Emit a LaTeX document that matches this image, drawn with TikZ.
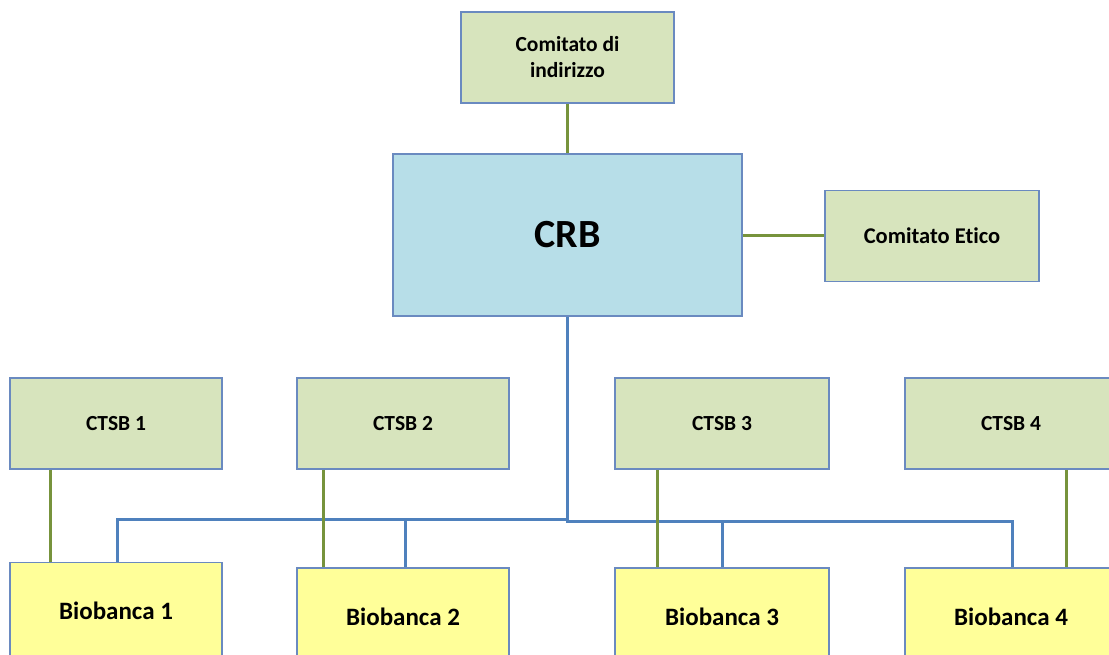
\documentclass[tikz,border=0pt]{standalone}
\usepackage{fontspec}
\setmainfont{Carlito}[Ligatures={NoCommon}]
\definecolor{gfill}{HTML}{D7E4BD}
\definecolor{yfill}{HTML}{FFFF99}
\definecolor{bfill}{HTML}{B7DEE8}
\definecolor{edge}{HTML}{6A8AC0}
\definecolor{gline}{HTML}{77933C}
\definecolor{bline}{HTML}{4F81BD}
\begin{document}
\begin{tikzpicture}[x=1pt,y=-1pt,
  box/.style={draw=edge, line width=1.6pt, align=center, inner sep=0pt,
              font=\fontsize{21.5}{26}\selectfont\bfseries},
  gbox/.style={box, fill=gfill, minimum width=213pt, minimum height=91pt},
  ybox/.style={box, fill=yfill, minimum width=213pt, minimum height=97pt,
               font=\fontsize{25}{30}\selectfont\bfseries},
  glink/.style={draw=gline, line width=3pt},
  blink/.style={draw=bline, line width=3pt}]
\useasboundingbox (0,0) rectangle (1109,655);
\clip (0,0) rectangle (1109,655);
% boxes
\node[gbox] (ci) at (567.5,57.5) {Comitato di\\indirizzo};
\node[box, fill=bfill, minimum width=349pt, minimum height=162pt,
      font=\fontsize{40}{44}\selectfont\bfseries] (crb) at (567.5,235) {CRB};
\node[gbox, minimum width=214pt, font=\fontsize{22.5}{26}\selectfont\bfseries] (ce) at (932,236) {Comitato Etico};
\node[gbox, minimum width=212pt] (t1) at (116,423.5) {CTSB 1};
\node[gbox, minimum width=212pt] (t2) at (403,423.5) {CTSB 2};
\node[gbox, minimum width=214pt] (t3) at (722,423.5) {CTSB 3};
\node[gbox, minimum width=212pt] (t4) at (1011,423.5) {CTSB 4};
\node[ybox, minimum width=212pt] (b1) at (116,611) {Biobanca 1};
\node[ybox, minimum width=212pt] (b2) at (403,616.5) {Biobanca 2};
\node[ybox, minimum width=214pt] (b3) at (722,616.5) {Biobanca 3};
\node[ybox, minimum width=212pt] (b4) at (1011,616.5) {Biobanca 4};
% bus coordinates
\coordinate (bj) at (567.5,519.5);
\coordinate (bL) at (117,519.5);
\coordinate (b2x) at (405,519.5);
\coordinate (bjr) at (567.5,521);
\coordinate (b3x) at (722,521);
\coordinate (bR) at (1012,521);
% blue connectors
\draw[blink] (crb.south) -- (bj) -- (bL) -- (b1.north -| bL);
\draw[blink] (bj) -- (bjr) -- (bR) -- (b4.north -| bR);
\draw[blink] (b2x) -- (b2.north -| b2x);
\draw[blink] (b3x) -- (b3.north -| b3x);
% green connectors
\coordinate (g1) at (50.5,0);
\coordinate (g2) at (323,0);
\coordinate (g3) at (657,0);
\coordinate (g4) at (1066.5,0);
\draw[glink] (ci.south) -- (crb.north);
\draw[glink] (crb.east |- ce.west) -- (ce.west);
\draw[glink] (t1.south -| g1) -- (b1.north -| g1);
\draw[glink] (t2.south -| g2) -- (b2.north -| g2);
\draw[glink] (t3.south -| g3) -- (b3.north -| g3);
\draw[glink] (t4.south -| g4) -- (b4.north -| g4);
\end{tikzpicture}
\end{document}
